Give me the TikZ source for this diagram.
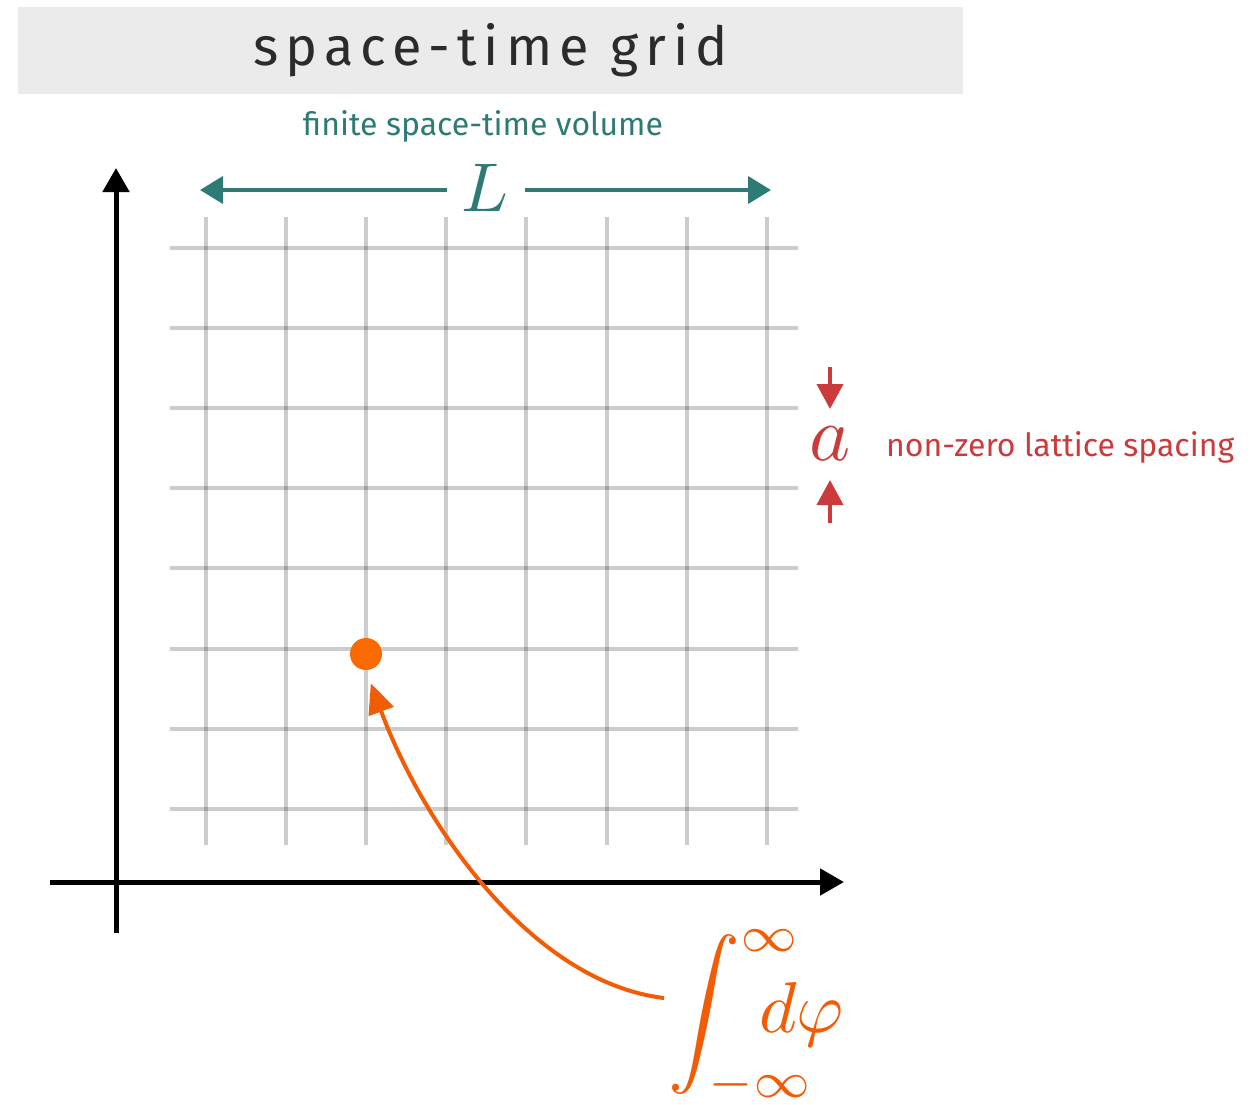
\documentclass[tikz,border=0pt]{standalone}
\usepackage[no-math]{fontspec}
\setmainfont{Fira Sans}
\usetikzlibrary{arrows.meta}
\definecolor{titlebg}{HTML}{EBEBEB}
\definecolor{titletext}{HTML}{2B2B2B}
\definecolor{tealc}{HTML}{2E7A74}
\definecolor{redc}{HTML}{CC3B3B}
\definecolor{dotc}{HTML}{FA6A00}
\definecolor{intc}{HTML}{F25C05}
\tikzset{
  gridline/.style={draw=black, draw opacity=0.2, line width=4pt},
  axis/.style={draw=black, line width=5pt, -{Triangle[length=24pt,width=26pt]}},
  Larrow/.style={draw=tealc, line width=4pt, -{Triangle[length=23pt,width=27pt]}},
  aarrow/.style={draw=redc, line width=4pt, -{Triangle[length=25pt,width=26pt]}},
  curvearrow/.style={draw=intc, line width=4pt, -{Triangle[length=30pt,width=26pt]}},
}
\begin{document}
\begin{tikzpicture}[x=1pt,y=-1pt]
\useasboundingbox (0,0) rectangle (1253,1104);
% title
\node[fill=titlebg, minimum width=945pt, minimum height=87pt, inner sep=0pt, text=titletext,
      font=\fontsize{54}{60}\selectfont\addfontfeature{LetterSpace=13}] (title) at (490.5,50) {space-time grid};
\node[text=tealc, font=\fontsize{32}{38}\selectfont] (vol) at (483,126) {finite space-time volume};
% grid
\foreach \i in {0,...,7} {
  \draw[gridline] (206+80.1*\i,217) -- (206+80.1*\i,845);
  \draw[gridline] (170,248+80.1*\i) -- (798,248+80.1*\i);
}
% axes
\coordinate (ybot) at (116,933);
\coordinate (ytop) at (116,168);
\coordinate (xleft) at (50,882);
\coordinate (xright) at (844,882);
\draw[axis] (ybot) -- (ytop);
\draw[axis] (xleft) -- (xright);
% L arrow
\node[text=tealc, inner sep=0pt] (L) at (485,188) {\scalebox{6.9}{$L$}};
\coordinate (Lleft) at (200,190);
\coordinate (Lright) at (771,190);
\draw[Larrow] (447,190) -- (Lleft);
\draw[Larrow] (525,190) -- (Lright);
% lattice spacing
\node[text=redc, inner sep=0pt] (a) at (830,444) {\scalebox{7.8}{$a$}};
\coordinate (adtop) at (830,367);
\coordinate (adtip) at (830,409);
\coordinate (aubot) at (830,523);
\coordinate (autip) at (830,480);
\draw[aarrow] (adtop) -- (adtip);
\draw[aarrow] (aubot) -- (autip);
\node[text=redc, font=\fontsize{32}{38}\selectfont, anchor=west, inner sep=0pt] (spacing) at (886,447) {non-zero lattice spacing};
% dot
\node[circle, fill=dotc, minimum size=32pt, inner sep=0pt] (dot) at (366,654) {};
% integral
\node[text=intc, inner sep=0pt] (int) at (756,1017) {\scalebox{7.2}{$\displaystyle\int_{-\infty}^{\infty}\hspace{-9.3pt} d\varphi$}};
\coordinate (cstart) at (664,998);
\draw[curvearrow, shorten >=14pt] (cstart) .. controls (530,982) and (422,822) .. (dot.south);
\end{tikzpicture}
\end{document}
